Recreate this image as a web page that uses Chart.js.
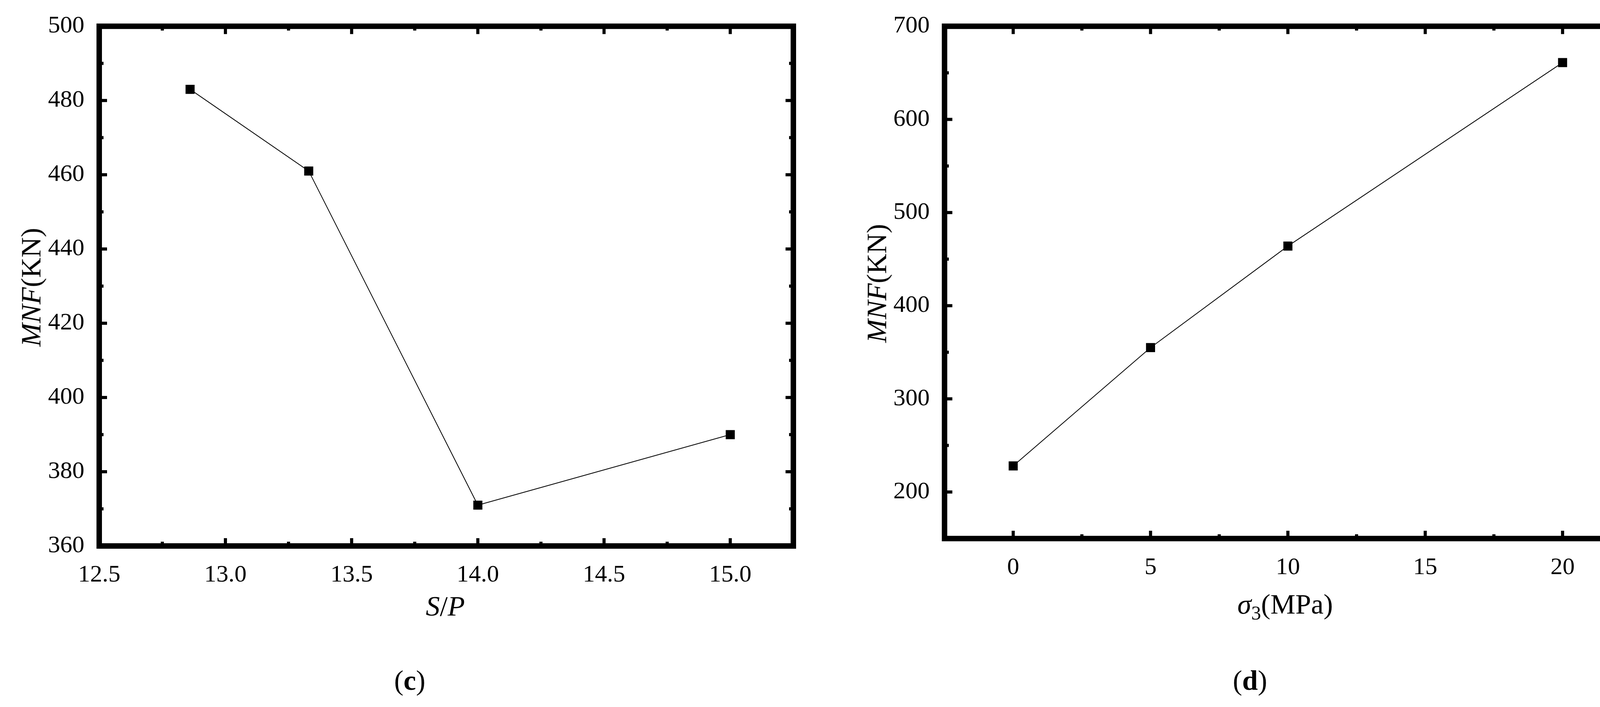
<!DOCTYPE html>
<html>
<head>
<meta charset="utf-8">
<script src="https://cdn.jsdelivr.net/npm/chart.js@4"></script>
<style>
  body { margin: 0; background: #fff; width: 4218px; height: 1809px; position: relative; overflow: hidden; font-family: "Liberation Serif", serif; }
  .box { position: absolute; top: 0; height: 1809px; }
  .lbl { position: absolute; font-size: 72px; color: #000; white-space: nowrap; }
  .ytitle { transform: translate(-50%, -50%) rotate(-90deg); }
  .ctr { transform: translateX(-50%); }
</style>
</head>
<body>
<div class="box" style="left:0;width:2070px"><canvas id="chart-c"></canvas></div>
<div class="box" style="left:2150px;width:2068px"><canvas id="chart-d"></canvas></div>

<div class="lbl ytitle" style="left:80px;top:735px"><i>MNF</i>(KN)</div>
<div class="lbl ctr" style="left:1140px;top:1510px"><i>S</i>/<i>P</i></div>
<div class="lbl ctr" style="left:1049px;top:1700px">(<b>c</b>)</div>

<div class="lbl ytitle" style="left:2245px;top:725px"><i>MNF</i>(KN)</div>
<div class="lbl ctr" style="left:3290px;top:1505px"><i>σ</i><sub style="font-size:50px">3</sub>(MPa)</div>
<div class="lbl ctr" style="left:3200px;top:1700px">(<b>d</b>)</div>

<script>
    // --- DATA ---
    const spValues = [12.86, 13.33, 14.0, 15.0];
    const mnfBySp = [483, 461, 371, 390];
    const sigma3Values = [0, 5, 10, 20];
    const mnfBySigma3 = [228, 355, 464, 661];

    // --- FRAME + INWARD TICKS PLUGIN ---
    const frameTicks = {
        id: 'frameTicks',
        afterDraw(chart, args, opts) {
            const { ctx, chartArea: a, scales: { x, y } } = chart;
            ctx.save();
            ctx.strokeStyle = '#000';
            ctx.fillStyle = '#000';
            const tick = (v, scale, len, horizontal) => {
                const p = scale.getPixelForValue(v);
                if (horizontal) {
                    ctx.fillRect(p - 4, a.bottom - len, 8, len);
                    ctx.fillRect(p - 4, a.top, 8, len);
                } else {
                    ctx.fillRect(a.left, p - 4, len, 8);
                    ctx.fillRect(a.right - len, p - 4, len, 8);
                }
            };
            for (let v = x.min; v <= x.max + 1e-9; v += opts.xMinor) {
                const major = Math.abs(v / opts.xMajor - Math.round(v / opts.xMajor)) < 1e-6;
                tick(v, x, major ? 20 : 11, true);
            }
            for (let v = y.min; v <= y.max + 1e-9; v += opts.yMinor) {
                const major = Math.abs(v / opts.yMajor - Math.round(v / opts.yMajor)) < 1e-6;
                tick(v, y, major ? 20 : 11, false);
            }
            ctx.lineWidth = 14;
            ctx.strokeRect(a.left, a.top, a.right - a.left, a.bottom - a.top);
            ctx.restore();
        }
    };

    function renderChart(canvasId, xs, ys, xOpt, yOpt, areaLeft, areaRight, areaBottom, width, ticksOpt, xFmt) {
        const ctx = document.getElementById(canvasId).getContext('2d');
        return new Chart(ctx, {
            type: 'scatter',
            data: { datasets: [{ data: xs.map((v, i) => ({ x: v, y: ys[i] })), showLine: true,
                borderColor: '#000', borderWidth: 2, pointStyle: 'rect', pointRadius: 15,
                pointBackgroundColor: '#000', pointBorderColor: '#000' }] },
            options: {
                responsive: true, maintainAspectRatio: false, animation: false,
                layout: { padding: { top: 67, right: width - areaRight, left: 0, bottom: 0 } },
                plugins: { legend: { display: false }, tooltip: { enabled: false }, frameTicks: ticksOpt },
                scales: {
                    x: { type: 'linear', min: xOpt.min, max: xOpt.max,
                        grid: { display: false }, border: { display: false },
                        afterFit: s => { s.height = 1809 - areaBottom; },
                        afterBuildTicks: s => { s.ticks = xOpt.ticks.map(v => ({ value: v })); },
                        ticks: { color: '#000', padding: 30, maxRotation: 0, autoSkip: false,
                            font: { family: 'Liberation Serif', size: 62 }, callback: xFmt } },
                    y: { min: yOpt.min, max: yOpt.max,
                        grid: { display: false }, border: { display: false },
                        afterFit: s => { s.width = areaLeft; },
                        afterBuildTicks: s => { s.ticks = yOpt.ticks.map(v => ({ value: v })); },
                        ticks: { color: '#000', padding: 30, font: { family: 'Liberation Serif', size: 62 } } }
                }
            },
            plugins: [frameTicks]
        });
    }

    renderChart('chart-c', spValues, mnfBySp,
        { min: 12.5, max: 15.25, ticks: [12.5, 13, 13.5, 14, 14.5, 15] },
        { min: 360, max: 500, ticks: [360, 380, 400, 420, 440, 460, 480, 500] },
        254, 2031, 1397, 2070, { xMajor: 0.5, xMinor: 0.25, yMajor: 20, yMinor: 10 },
        v => v.toFixed(1));

    renderChart('chart-d', sigma3Values, mnfBySigma3,
        { min: -2.5, max: 22.5, ticks: [0, 5, 10, 15, 20] },
        { min: 150, max: 700, ticks: [200, 300, 400, 500, 600, 700] },
        2418 - 2150, 4176 - 2150, 1378, 2068, { xMajor: 5, xMinor: 2.5, yMajor: 100, yMinor: 50 },
        v => v);
</script>
</body>
</html>
